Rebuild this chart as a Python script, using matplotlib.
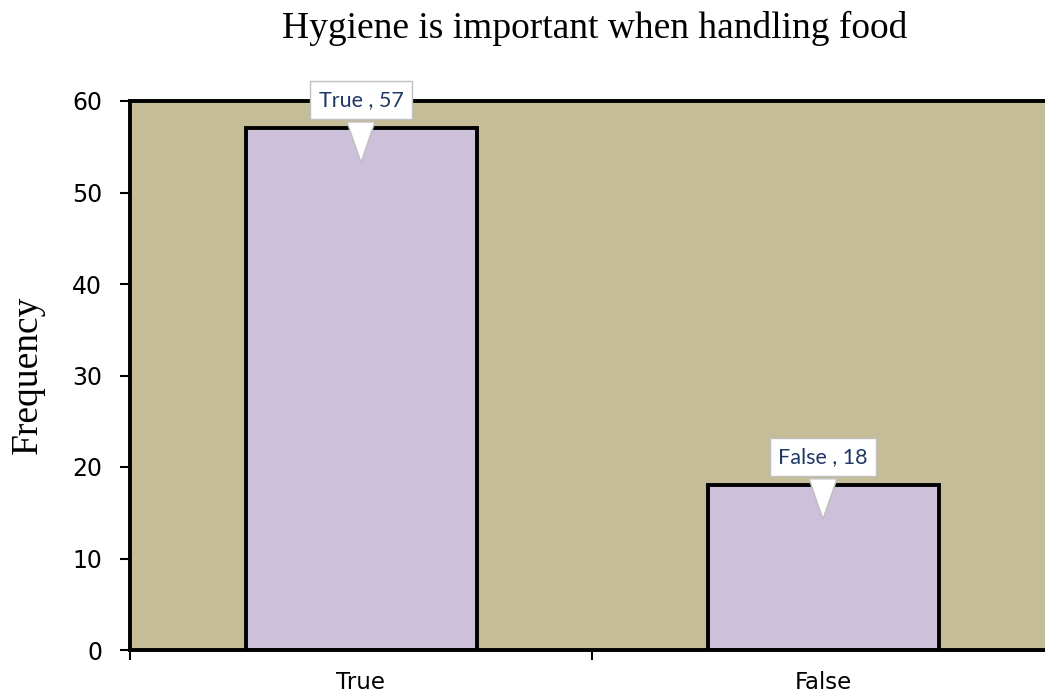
import matplotlib.pyplot as plt

categories = ["True", "False"]
freq = [57, 18]

fig = plt.figure(figsize=(10.45, 6.95), dpi=100)
ax = fig.add_axes([130 / 1045, 45 / 695, 924 / 1045, 549 / 695])
ax.set_facecolor("#C4BD97")

pos = [i + 0.5 for i in range(len(categories))]
ax.bar(pos, freq, width=0.5, color="#CCC0DA", edgecolor="black", linewidth=2.8, zorder=2)

ax.set_xlim(0, len(categories))
ax.set_ylim(0, 60)
ax.set_yticks(range(0, 61, 10))
ax.set_xticks(range(len(categories) + 1))
ax.set_xticklabels([])
ax.set_xticks(pos, minor=True)
ax.set_xticklabels(categories, minor=True)
ax.tick_params(axis="x", which="minor", length=0, pad=15, labelsize=16.5)
ax.tick_params(axis="x", which="major", length=7, width=1.5, direction="out")
ax.tick_params(axis="y", length=7, width=1.5, pad=13, labelsize=17)
for s in ax.spines.values():
    s.set_linewidth(2.8)
    s.set_color("black")

# callouts
for x, c, v in zip(pos, categories, freq):
    ax.annotate(f"{c} , {v}", xy=(x, v - 4), xytext=(x, v + 3.1),
                ha="center", va="center", fontsize=15.5, family="Lato",
                color="#1F3864", annotation_clip=False, zorder=5,
                bbox=dict(boxstyle="square,pad=0.4", fc="white", ec="#BFBFBF", lw=1),
                arrowprops=dict(arrowstyle="wedge,tail_width=1.3,shrink_factor=0.5",
                                fc="white", ec="#BFBFBF", lw=1))

fig.text(595 / 1045, 1 - 28 / 695, "Hygiene is important when handling food",
         ha="center", va="center", fontsize=27, family="Liberation Serif")
fig.text(28 / 1045, 1 - 375 / 695, "Frequency", rotation=90,
         ha="center", va="center", fontsize=27, family="Liberation Serif")

fig.savefig("out.png", dpi=100)
